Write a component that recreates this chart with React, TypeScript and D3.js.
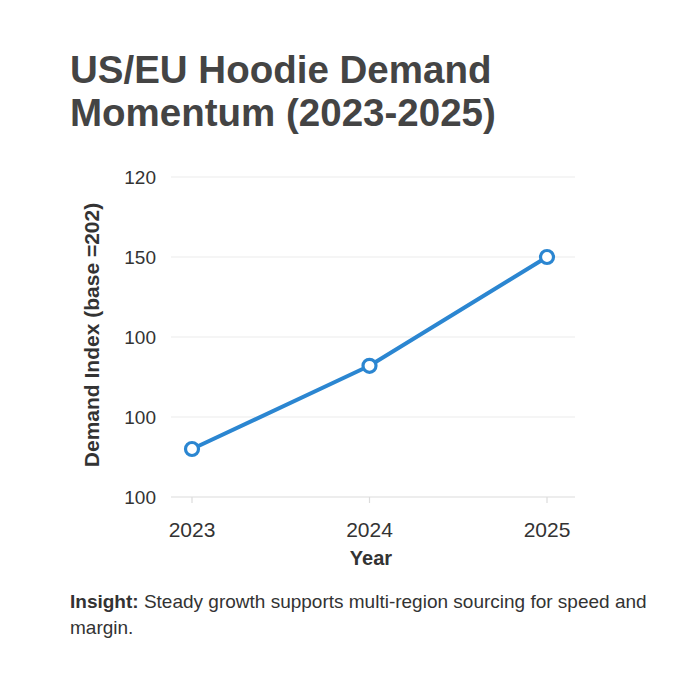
import React, { useEffect, useRef } from 'react';
import * as d3 from 'd3';

const years = ['2023', '2024', '2025'];
const demand = [115, 141, 175];
const yTicks = [100, 125, 150, 175, 200];
const yTickLabels = ['100', '100', '100', '150', '120'];

const W = 700;
const H = 700;
const plot = { left: 171, right: 575, top: 177, bottom: 497 };

const App: React.FC = () => {
  const svgRef = useRef<SVGSVGElement>(null);

  useEffect(() => {
    if (!svgRef.current) return;
    const svg = d3.select(svgRef.current);
    svg.selectAll('*').remove();

    const font = '"Liberation Sans", Arial, sans-serif';

    const x = d3.scalePoint<string>()
      .domain(years)
      .range([192, 547]);

    const y = d3.scaleLinear()
      .domain([100, 200])
      .range([plot.bottom, plot.top]);

    // Title
    const title = svg.append('text')
      .attr('font-family', font)
      .attr('font-size', 38.5)
      .attr('font-weight', 'bold')
      .attr('fill', '#444');
    title.append('tspan').attr('x', 70).attr('y', 83).text('US/EU Hoodie Demand');
    title.append('tspan').attr('x', 70).attr('y', 126).text('Momentum (2023-2025)');

    // Grid
    svg.append('g')
      .selectAll('line')
      .data(yTicks)
      .join('line')
      .attr('x1', plot.left)
      .attr('x2', plot.right)
      .attr('y1', d => y(d))
      .attr('y2', d => y(d))
      .attr('stroke', (d, i) => (i === 0 ? '#dcdcdc' : '#ebebeb'))
      .attr('stroke-width', 1.2);

    // Y tick labels
    svg.append('g')
      .selectAll('text')
      .data(yTicks)
      .join('text')
      .attr('x', 156)
      .attr('y', d => y(d))
      .attr('dy', '0.35em')
      .attr('text-anchor', 'end')
      .attr('font-family', font)
      .attr('font-size', 19)
      .attr('fill', '#333')
      .text((d, i) => yTickLabels[i]);

    // X ticks
    svg.append('g')
      .selectAll('line')
      .data(years)
      .join('line')
      .attr('x1', d => x(d)!)
      .attr('x2', d => x(d)!)
      .attr('y1', plot.bottom)
      .attr('y2', plot.bottom + 6)
      .attr('stroke', '#dcdcdc')
      .attr('stroke-width', 1.2);

    svg.append('g')
      .selectAll('text')
      .data(years)
      .join('text')
      .attr('x', d => x(d)!)
      .attr('y', 537)
      .attr('text-anchor', 'middle')
      .attr('font-family', font)
      .attr('font-size', 21)
      .attr('fill', '#333')
      .text(d => d);

    // Axis titles
    svg.append('text')
      .attr('x', 371)
      .attr('y', 565)
      .attr('text-anchor', 'middle')
      .attr('font-family', font)
      .attr('font-size', 20)
      .attr('font-weight', 'bold')
      .attr('fill', '#333')
      .text('Year');

    svg.append('text')
      .attr('transform', `translate(99,335) rotate(-90)`)
      .attr('text-anchor', 'middle')
      .attr('font-family', font)
      .attr('font-size', 21)
      .attr('font-weight', 'bold')
      .attr('fill', '#333')
      .text('Demand Index (base =202)');

    // Line
    const pts = years.map((yr, i) => ({ yr, v: demand[i] }));
    const line = d3.line<{ yr: string; v: number }>()
      .x(d => x(d.yr)!)
      .y(d => y(d.v));

    svg.append('path')
      .datum(pts)
      .attr('fill', 'none')
      .attr('stroke', '#2b86d1')
      .attr('stroke-width', 4)
      .attr('stroke-linejoin', 'round')
      .attr('d', line);

    svg.append('g')
      .selectAll('circle')
      .data(pts)
      .join('circle')
      .attr('cx', d => x(d.yr)!)
      .attr('cy', d => y(d.v))
      .attr('r', 6.5)
      .attr('fill', '#fff')
      .attr('stroke', '#2b86d1')
      .attr('stroke-width', 3.2);

    // Insight
    const ins = svg.append('text')
      .attr('font-family', font)
      .attr('font-size', 19)
      .attr('fill', '#333');
    const l1 = ins.append('tspan').attr('x', 70).attr('y', 608);
    l1.append('tspan').attr('font-weight', 'bold').text('Insight:');
    l1.append('tspan').text(' Steady growth supports multi-region sourcing for speed and');
    ins.append('tspan').attr('x', 70).attr('y', 634).text('margin.');
  }, []);

  return (
    <div style={{ position: 'absolute', left: 0, top: 0, width: W, height: H, background: '#fff' }}>
      <svg ref={svgRef} width={W} height={H}></svg>
    </div>
  );
};

export default App;
